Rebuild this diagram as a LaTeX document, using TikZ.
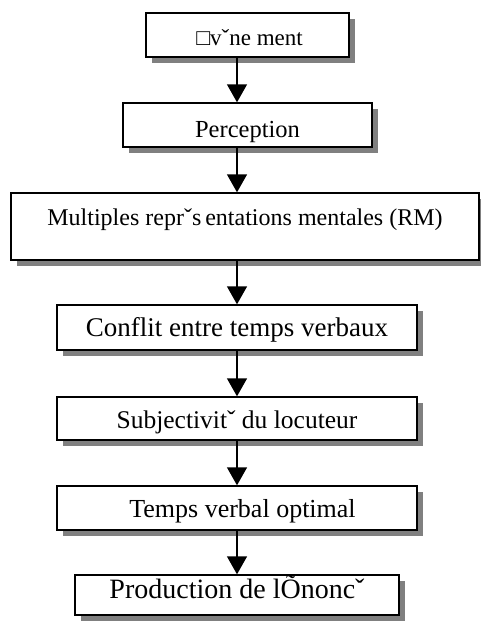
\documentclass[tikz,border=0pt]{standalone}
\usepackage{fontspec}
\setmainfont{Liberation Serif}
\usetikzlibrary{arrows.meta,shadows}
\definecolor{shadowgray}{HTML}{808080}
\begin{document}
\begin{tikzpicture}[x=1pt,y=-1pt,
  box/.style={draw=black, line width=1.4pt, fill=white, inner xsep=0pt, inner ysep=0pt,
    font=\fontsize{24}{28}\selectfont,
    drop shadow={shadow xshift=6pt, shadow yshift=-6pt, fill=shadowgray, opacity=1}},
  flow/.style={line width=1.4pt, -{Triangle[width=20pt,length=18pt]}}]
\useasboundingbox (0,0) rectangle (480,621);
\coordinate (ax) at (237,0);
\node[box, font=\fontsize{23}{28}\selectfont, minimum width=203pt, text height=32pt, text depth=12pt] (b1) at (247.5,35) {\hspace{4pt}□vˇne ment};
\node[box, font=\fontsize{24.5}{28}\selectfont, minimum width=249pt, text height=34pt, text depth=10pt] (b2) at (247.5,125) {Perception};
\node[box, minimum width=468pt, text height=32pt, text depth=35pt] (b3) at (245,226.5) {Multiples reprˇs\hspace{4pt}entations mentales (RM)\hspace{8pt}};
\node[box, font=\fontsize{27}{30}\selectfont, minimum width=360pt, text height=31pt, text depth=14pt] (b4) at (237,327.5) {Conflit entre temps verbaux\hspace{7pt}};
\node[box, font=\fontsize{25.5}{28}\selectfont, minimum width=360pt, text height=31pt, text depth=12pt] (b5) at (237,418.5) {Subjectivitˇ du locuteur\hspace{6pt}};
\node[box, font=\fontsize{26}{28}\selectfont, minimum width=360pt, text height=31pt, text depth=13pt] (b6) at (237,508) {\hspace{11pt}Temps verbal optimal};
\node[box, font=\fontsize{28}{30}\selectfont, minimum width=324pt, text height=23pt, text depth=17pt] (b7) at (237,595) {Production de lÕnoncˇ\hspace{9pt}};
\draw[flow] (b1.south -| ax) -- (b2.north -| ax);
\draw[flow] (b2.south -| ax) -- (b3.north -| ax);
\draw[flow] (b3.south -| ax) -- (b4.north -| ax);
\draw[flow] (b4.south -| ax) -- (b5.north -| ax);
\draw[flow] (b5.south -| ax) -- (b6.north -| ax);
\draw[flow] (b6.south -| ax) -- (b7.north -| ax);
\end{tikzpicture}
\end{document}
